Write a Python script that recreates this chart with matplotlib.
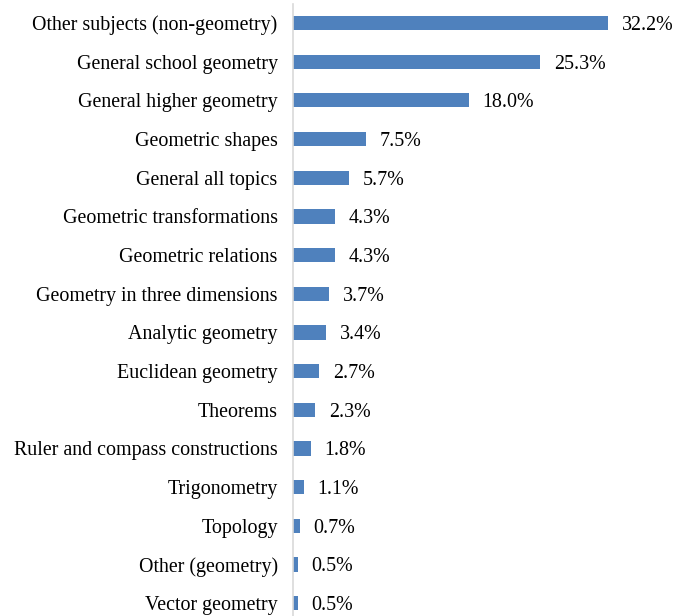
import matplotlib
matplotlib.use("Agg")
import matplotlib.pyplot as plt

categories = [
    "Other subjects (non-geometry)",
    "General school geometry",
    "General higher geometry",
    "Geometric shapes",
    "General all topics",
    "Geometric transformations",
    "Geometric relations",
    "Geometry in three dimensions",
    "Analytic geometry",
    "Euclidean geometry",
    "Theorems",
    "Ruler and compass constructions",
    "Trigonometry",
    "Topology",
    "Other (geometry)",
    "Vector geometry",
]
values = [32.2, 25.3, 18.0, 7.5, 5.7, 4.3, 4.3, 3.7, 3.4, 2.7, 2.3, 1.8, 1.1, 0.7, 0.5, 0.5]

plt.rcParams["font.family"] = ["Liberation Serif", "DejaVu Serif"]

W, H = 674, 616
fig = plt.figure(figsize=(W / 100, H / 100), dpi=100)

row = 38.67
top_px = 23 - row / 2
bottom_px = top_px + row * len(categories)
left_px, right_px = 293, 293 + 35 * 9.78
ax = fig.add_axes([left_px / W, 1 - bottom_px / H,
                   (right_px - left_px) / W, (bottom_px - top_px) / H])

ypos = list(range(len(categories)))
ax.barh(ypos, values, height=0.37, color="#4f81bd")
ax.set_ylim(len(categories) - 0.5, -0.5)
ax.set_xlim(0, 35)

for y, v in zip(ypos, values):
    ax.text(v + 1.4, y, f"{v:.1f}%", va="center_baseline", ha="left", fontsize=14.4)

ax.set_yticks(ypos)
ax.set_yticklabels(categories, fontsize=14.4, va="center_baseline")
ax.tick_params(axis="y", length=0, pad=11)
ax.set_xticks([])
for side in ["top", "right", "bottom"]:
    ax.spines[side].set_visible(False)
ax.spines["left"].set_color("#d9d9d9")
ax.spines["left"].set_linewidth(1.2)

fig.savefig("out.png", dpi=100)
